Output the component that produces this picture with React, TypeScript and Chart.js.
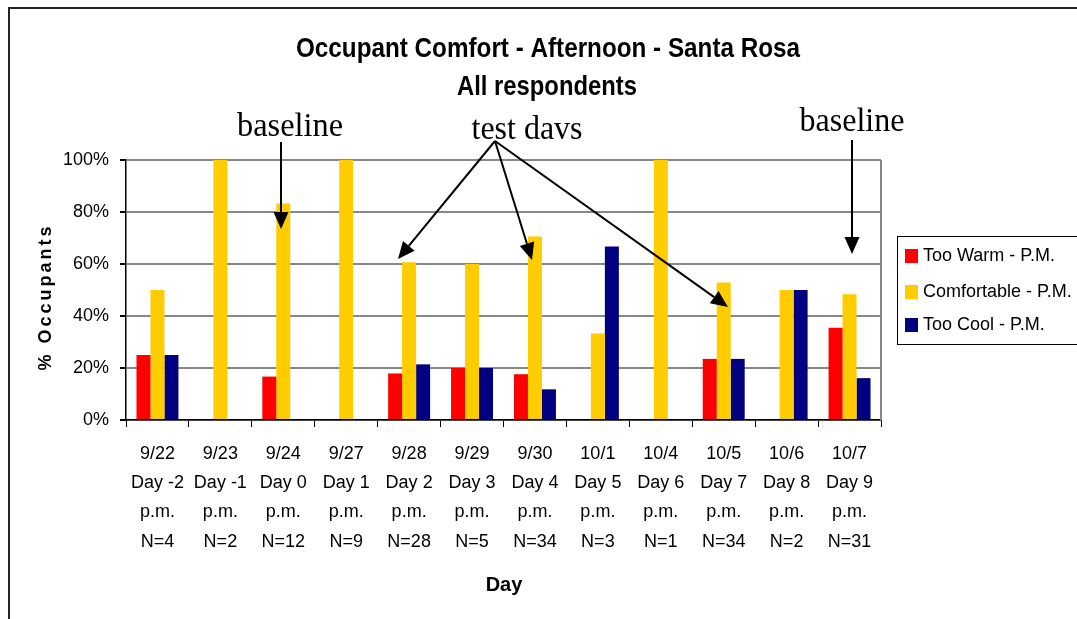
import React, { useEffect, useRef } from 'react';
import { Chart, registerables } from 'chart.js';

Chart.register(...registerables);

const categories: string[][] = [
  ['9/22', 'Day -2', 'p.m.', 'N=4'],
  ['9/23', 'Day -1', 'p.m.', 'N=2'],
  ['9/24', 'Day 0', 'p.m.', 'N=12'],
  ['9/27', 'Day 1', 'p.m.', 'N=9'],
  ['9/28', 'Day 2', 'p.m.', 'N=28'],
  ['9/29', 'Day 3', 'p.m.', 'N=5'],
  ['9/30', 'Day 4', 'p.m.', 'N=34'],
  ['10/1', 'Day 5', 'p.m.', 'N=3'],
  ['10/4', 'Day 6', 'p.m.', 'N=1'],
  ['10/5', 'Day 7', 'p.m.', 'N=34'],
  ['10/6', 'Day 8', 'p.m.', 'N=2'],
  ['10/7', 'Day 9', 'p.m.', 'N=31'],
];

const tooWarm = [25, 0, 16.7, 0, 17.9, 20, 17.6, 0, 0, 23.5, 0, 35.5];
const comfortable = [50, 100, 83.3, 100, 60.7, 60, 70.6, 33.3, 100, 52.9, 50, 48.4];
const tooCool = [25, 0, 0, 0, 21.4, 20, 11.8, 66.7, 0, 23.5, 50, 16.1];

const seriesLabels = ['Too Warm - P.M.', 'Comfortable - P.M.', 'Too Cool - P.M.'];
const seriesColors = ['#FF0000', '#FFCC00', '#000080'];

const titleLines = ['Occupant Comfort - Afternoon - Santa Rosa', 'All respondents'];
const yAxisTitle = '% Occupants';
const xAxisTitle = 'Day';

const SANS = '"Liberation Sans", Arial, sans-serif';
const SERIF = '"Liberation Serif", "Times New Roman", serif';

function drawFit(
  ctx: CanvasRenderingContext2D,
  text: string,
  font: string,
  cx: number,
  baseY: number,
  targetW: number
) {
  ctx.save();
  ctx.font = font;
  ctx.textAlign = 'center';
  ctx.textBaseline = 'alphabetic';
  const w = ctx.measureText(text).width;
  const s = targetW / w;
  ctx.translate(cx, baseY);
  ctx.scale(s, 1);
  ctx.fillText(text, 0, 0);
  ctx.restore();
}

function arrow(ctx: CanvasRenderingContext2D, x1: number, y1: number, x2: number, y2: number) {
  const ang = Math.atan2(y2 - y1, x2 - x1);
  const len = 17;
  const hw = 7.5;
  const bx = x2 - Math.cos(ang) * len;
  const by = y2 - Math.sin(ang) * len;
  ctx.save();
  ctx.strokeStyle = '#000';
  ctx.fillStyle = '#000';
  ctx.lineWidth = 2;
  ctx.beginPath();
  ctx.moveTo(x1, y1);
  ctx.lineTo(bx, by);
  ctx.stroke();
  ctx.beginPath();
  ctx.moveTo(x2, y2);
  ctx.lineTo(bx + Math.sin(ang) * hw, by - Math.cos(ang) * hw);
  ctx.lineTo(bx - Math.sin(ang) * hw, by + Math.cos(ang) * hw);
  ctx.closePath();
  ctx.fill();
  ctx.restore();
}

const decorPlugin = {
  id: 'decor',
  beforeDraw(chart: any) {
    const ctx = chart.ctx as CanvasRenderingContext2D;
    ctx.save();
    ctx.fillStyle = '#fff';
    ctx.fillRect(0, 0, chart.width, chart.height);
    ctx.restore();
  },
  afterDraw(chart: any) {
    const ctx = chart.ctx as CanvasRenderingContext2D;
    const area = chart.chartArea;
    ctx.save();
    // outer frame
    ctx.strokeStyle = '#222';
    ctx.lineWidth = 2;
    ctx.beginPath();
    ctx.moveTo(9, chart.height + 2);
    ctx.lineTo(9, 8);
    ctx.lineTo(chart.width + 2, 8);
    ctx.stroke();

    // right border of plot area
    ctx.strokeStyle = '#888';
    ctx.lineWidth = 2;
    ctx.beginPath();
    ctx.moveTo(area.right, area.top);
    ctx.lineTo(area.right, area.bottom);
    ctx.stroke();

    // titles
    ctx.fillStyle = '#000';
    drawFit(ctx, titleLines[0], `bold 27px ${SANS}`, 548, 57, 504);
    drawFit(ctx, titleLines[1], `bold 27px ${SANS}`, 547, 95, 180);

    // annotations
    drawFit(ctx, 'baseline', `34px ${SERIF}`, 290, 136, 106);
    drawFit(ctx, 'test davs', `34px ${SERIF}`, 527, 139, 111);
    drawFit(ctx, 'baseline', `34px ${SERIF}`, 852, 131, 105);

    arrow(ctx, 281, 142, 281, 229);
    arrow(ctx, 495, 141, 398, 259);
    arrow(ctx, 495, 141, 532, 260);
    arrow(ctx, 495, 141, 728, 307);
    arrow(ctx, 852, 140, 852, 254);

    // y axis title
    ctx.save();
    ctx.translate(51, 297);
    ctx.rotate(-Math.PI / 2);
    ctx.font = `bold 18px ${SANS}`;
    (ctx as any).letterSpacing = '3px';
    ctx.textAlign = 'center';
    ctx.textBaseline = 'alphabetic';
    ctx.fillText(yAxisTitle, 0, 0);
    ctx.restore();

    // x axis title
    ctx.font = `bold 20px ${SANS}`;
    ctx.textAlign = 'center';
    ctx.textBaseline = 'alphabetic';
    ctx.fillText(xAxisTitle, 504, 591);

    // legend
    ctx.strokeStyle = '#000';
    ctx.lineWidth = 1;
    ctx.strokeRect(897.5, 236.5, 200, 108);
    const ys = [256, 292, 325];
    chart.data.datasets.forEach((ds: any, i: number) => {
      ctx.fillStyle = ds.backgroundColor;
      ctx.fillRect(905, ys[i] - 7, 13, 14);
      ctx.fillStyle = '#000';
      ctx.font = `18px ${SANS}`;
      ctx.textAlign = 'left';
      ctx.textBaseline = 'middle';
      ctx.fillText(ds.label, 923, ys[i]);
    });
    ctx.restore();
  },
};

export default function App() {
  const ref = useRef<HTMLCanvasElement | null>(null);
  useEffect(() => {
    if (!ref.current) return;
    const chart = new Chart(ref.current, {
      type: 'bar',
      data: {
        labels: categories,
        datasets: [
          { label: seriesLabels[0], data: tooWarm, backgroundColor: seriesColors[0] },
          { label: seriesLabels[1], data: comfortable, backgroundColor: seriesColors[1] },
          { label: seriesLabels[2], data: tooCool, backgroundColor: seriesColors[2] },
        ],
      },
      plugins: [decorPlugin],
      options: {
        animation: false,
        responsive: false,
        maintainAspectRatio: false,
        layout: { padding: { top: 160, right: 196, left: 0, bottom: 0 } },
        datasets: { bar: { barPercentage: 1, categoryPercentage: 0.667 } } as any,
        plugins: {
          legend: { display: false },
          title: { display: false },
          tooltip: { enabled: false },
        },
        scales: {
          x: {
            offset: true,
            grid: {
              offset: true,
              drawOnChartArea: false,
              drawTicks: true,
              tickLength: 7,
              color: '#000',
              tickColor: '#000',
              lineWidth: 1,
            },
            border: { display: true, color: '#000', width: 1.5 },
            ticks: {
              autoSkip: false,
              maxRotation: 0,
              minRotation: 0,
              color: '#000',
              font: { family: SANS, size: 18, lineHeight: 1.63 },
              padding: 12,
            },
            afterFit: (s: any) => {
              s.height = 199;
            },
          },
          y: {
            min: 0,
            max: 100,
            ticks: {
              stepSize: 20,
              color: '#000',
              font: { family: SANS, size: 18 },
              padding: 11,
              callback: (v: any) => v + '%',
            },
            grid: {
              color: '#888',
              lineWidth: 2,
              tickColor: '#000',
              tickLength: 6,
            },
            border: { display: true, color: '#000', width: 1.5 },
            afterFit: (s: any) => {
              s.width = 126;
            },
          },
        },
      },
    });
    return () => chart.destroy();
  }, []);
  return (
    <div style={{ position: 'fixed', left: 0, top: 0, width: 1077, height: 619 }}>
      <canvas ref={ref} width={1077} height={619} style={{ width: 1077, height: 619, display: 'block' }} />
    </div>
  );
}
